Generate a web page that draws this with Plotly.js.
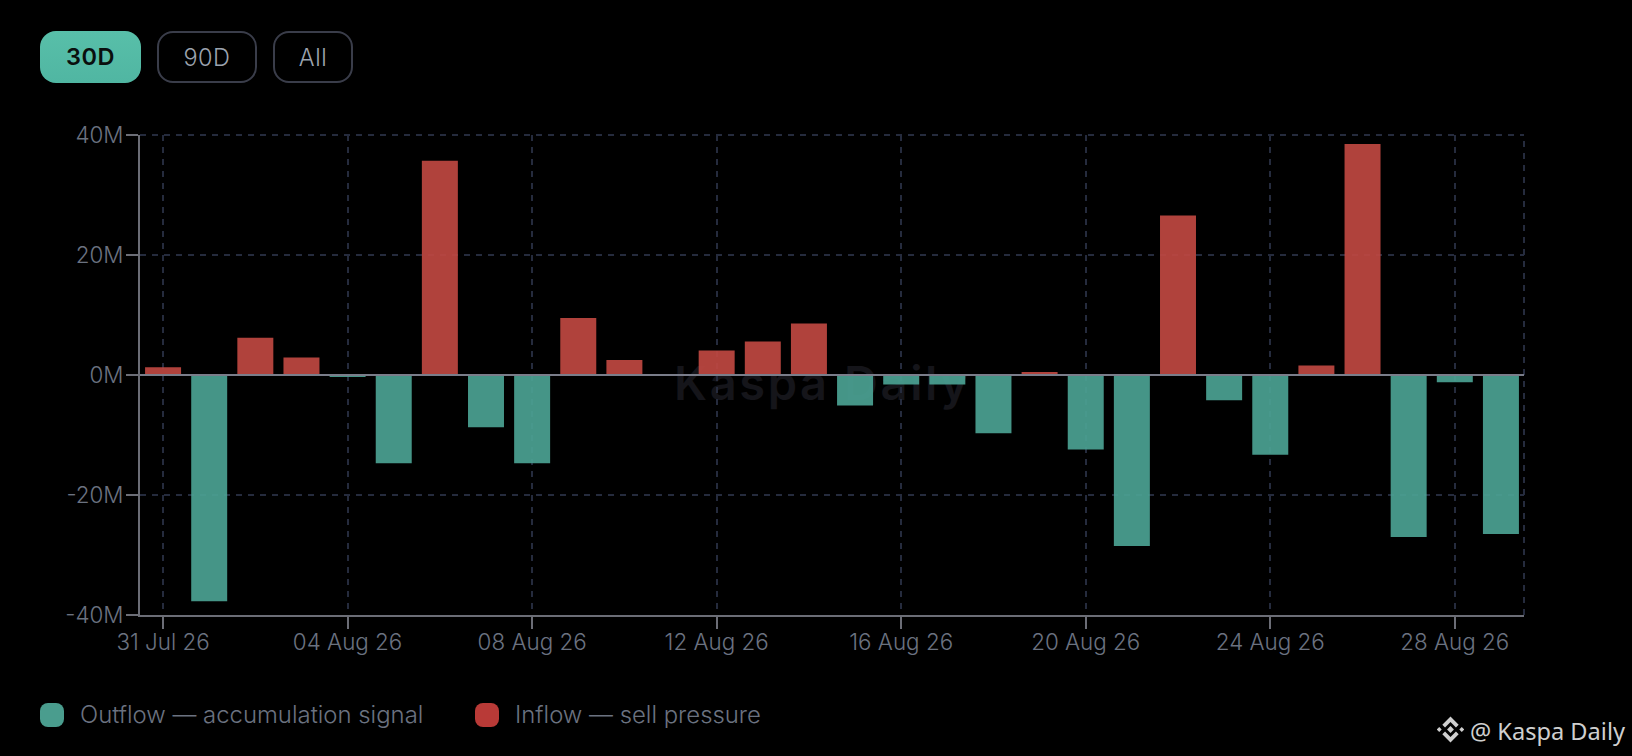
<!DOCTYPE html>
<html>
<head>
<meta charset="utf-8">
<script src="https://cdn.plot.ly/plotly-3.0.1.min.js"></script>
<style>
  html, body { margin: 0; background: #000; width: 1632px; height: 756px; overflow: hidden; font-family: Inter, sans-serif; }
  #myDiv { position: absolute; left: 0; top: 0; width: 1632px; height: 756px; }
  #water { position: absolute; left: 674px; top: 354px; line-height: 58px; font-size: 47px; font-weight: 600; letter-spacing: 2.6px; color: #15151a; white-space: nowrap; }
  .btn { position: absolute; top: 31px; height: 52px; line-height: 50px; box-sizing: border-box; text-align: center;
         border: 2px solid #3a3d4a; border-radius: 16px; color: #9ca3af; font-size: 23.5px; letter-spacing: 0.5px; font-weight: 300; }
  .btn.on { background: linear-gradient(#58bfa9, #50b6a2); border: none; line-height: 52px; color: #0a0f0e; font-weight: 600; }
  .sw { position: absolute; top: 703px; width: 24px; height: 24px; border-radius: 8px; }
  .lg { position: absolute; top: 700px; line-height: 30px; font-size: 23.9px; font-weight: 300; color: #6b7280; white-space: nowrap; }
  #mark { position: absolute; left: 1470px; top: 713px; line-height: 36px; font-family: "Noto Sans", sans-serif; font-size: 23.6px; color: #cfcfcf; white-space: nowrap; }
  #icon { position: absolute; left: 1437px; top: 716px; }
</style>
</head>
<body>
<div id="water">Kaspa Daily</div>
<div id="myDiv"></div>
<div class="btn on" style="left:40px;width:101px">30D</div>
<div class="btn" style="left:157px;width:100px">90D</div>
<div class="btn" style="left:273px;width:80px">All</div>
<div class="sw" style="left:40px;background:#4a9d8e"></div>
<div class="lg" style="left:80px">Outflow — accumulation signal</div>
<div class="sw" style="left:475px;background:#b93a37"></div>
<div class="lg" style="left:515px">Inflow — sell pressure</div>
<svg id="icon" width="27" height="27" viewBox="-14 -14 28 28" fill="#cfcfcf">
  <g transform="rotate(45)">
    <path d="M-9.5,-9.5H2.5V-5.5H-5.5V2.5H-9.5Z"/>
    <path d="M9.5,9.5H-2.5V5.5H5.5V-2.5H9.5Z"/>
    <rect x="-2.5" y="-2.5" width="5" height="5"/>
    <rect x="-10" y="6.5" width="3.6" height="3.6"/>
    <rect x="6.5" y="-10" width="3.6" height="3.6"/>
  </g>
</svg>
<div id="mark">@ Kaspa Daily</div>
<script>
var days = ['31 Jul 26','01 Aug 26','02 Aug 26','03 Aug 26','04 Aug 26','05 Aug 26','06 Aug 26','07 Aug 26','08 Aug 26','09 Aug 26',
            '10 Aug 26','11 Aug 26','12 Aug 26','13 Aug 26','14 Aug 26','15 Aug 26','16 Aug 26','17 Aug 26','18 Aug 26','19 Aug 26',
            '20 Aug 26','21 Aug 26','22 Aug 26','23 Aug 26','24 Aug 26','25 Aug 26','26 Aug 26','27 Aug 26','28 Aug 26','29 Aug 26'];
var outflow = [0,-37.7,0,0,-0.3,-14.7,0,-8.7,-14.7,0,
               0,0,0,0,0,-5.1,-1.6,-1.6,-9.7,0,
               -12.4,-28.5,0,-4.2,-13.3,0,0,-27,-1.2,-26.5];
var inflow = [1.3,0,6.2,2.9,0,0,35.7,0,0,9.5,
              2.5,0,4.1,5.6,8.6,0,0,0,0,0.5,
              0,0,26.6,0,0,1.6,38.5,0,0,0];
var xTicks = ['31 Jul 26','04 Aug 26','08 Aug 26','12 Aug 26','16 Aug 26','20 Aug 26','24 Aug 26','28 Aug 26'];
var yTicks = [-40,-20,0,20,40];
var yLabels = ['-40M','-20M','0M','20M','40M'];

function toUnits(arr) {
  return arr.map(function (v) { return v * 1e6; });
}

var out = {
  x: days, y: toUnits(outflow), type: 'bar', name: 'Outflow — accumulation signal',
  marker: { color: '#4ba292', opacity: 0.92 }, hoverinfo: 'x+y'
};
var inn = {
  x: days, y: toUnits(inflow), type: 'bar', name: 'Inflow — sell pressure',
  marker: { color: '#bf4841', opacity: 0.92 }, hoverinfo: 'x+y'
};

var gridColor = '#252b3d';
var lay = {
  width: 1632, height: 756,
  paper_bgcolor: 'rgba(0,0,0,0)', plot_bgcolor: 'rgba(0,0,0,0)',
  showlegend: false,
  barmode: 'relative', bargap: 0.22,
  margin: { l: 140, r: 108, t: 135, b: 141, pad: 0 },
  font: { family: 'Inter, sans-serif', size: 22.4, weight: 300, color: '#6b7280' },
  xaxis: {
    type: 'category', categoryorder: 'array', categoryarray: days, range: [-0.5, 29.5],
    tickmode: 'array', tickvals: xTicks, ticktext: xTicks,
    ticks: 'outside', ticklen: 12, tickwidth: 2, tickcolor: '#6b6d76', ticklabelstandoff: -6,
    showline: true, linecolor: '#6b6d76', linewidth: 2,
    showgrid: true, gridcolor: gridColor, griddash: '6px,6px', gridwidth: 2,
    zeroline: false, tickangle: 0
  },
  yaxis: {
    range: [-40e6, 40e6], tickmode: 'array', tickvals: toUnits(yTicks), ticktext: yLabels,
    ticks: 'outside', ticklen: 12, tickwidth: 2, tickcolor: '#6b6d76', ticklabelstandoff: -2,
    showline: true, linecolor: '#6b6d76', linewidth: 2,
    showgrid: true, gridcolor: gridColor, griddash: '6px,6px', gridwidth: 2,
    zeroline: false
  },
  shapes: [
    { type: 'line', xref: 'paper', yref: 'paper', x0: 1, x1: 1, y0: 0, y1: 1, layer: 'below',
      line: { color: gridColor, width: 2, dash: '6px,6px' } },
    { type: 'line', xref: 'paper', yref: 'paper', x0: 0, x1: 1, y0: 1, y1: 1, layer: 'below',
      line: { color: gridColor, width: 2, dash: '6px,6px' } },
    { type: 'line', xref: 'paper', yref: 'y', x0: 0, x1: 1, y0: 0, y1: 0, layer: 'above',
      line: { color: '#7a7d8a', width: 2 } }
  ]
};

Plotly.newPlot('myDiv', [out, inn], lay, { displayModeBar: false });
</script>
</body>
</html>
